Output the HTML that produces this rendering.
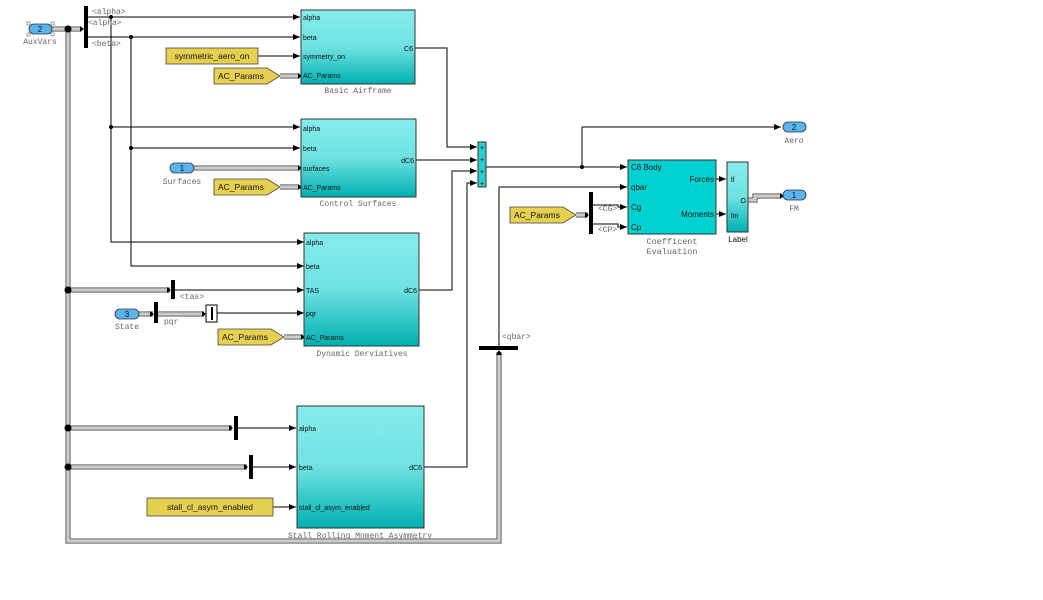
<!DOCTYPE html>
<html><head><meta charset="utf-8"><style>
html,body{margin:0;padding:0;background:#fff;}
svg{display:block}
.p{font-family:"Liberation Sans",sans-serif;font-size:8px;fill:#111}
.l{font-family:"Liberation Mono",monospace;font-size:8px;fill:#666}
.c{font-family:"Liberation Sans",sans-serif;font-size:8.5px;fill:#111}
</style></head><body>
<svg width="1043" height="600" viewBox="0 0 1043 600" xmlns="http://www.w3.org/2000/svg">
<defs>
<linearGradient id="g" x1="0" y1="0" x2="0" y2="1"><stop offset="0" stop-color="#86ecec"/><stop offset="0.5" stop-color="#6fe2e2"/><stop offset="1" stop-color="#00b0b0"/></linearGradient>
<marker id="a" markerWidth="7" markerHeight="6" refX="7" refY="3" orient="auto" markerUnits="userSpaceOnUse"><path d="M0,0 L7,3 L0,6z" fill="#000"/></marker>
</defs>
<g fill="none" stroke="#000" stroke-width="1">
<g stroke="#444" stroke-width="5"><path d="M52,29 H80 M68,29 V541 H499 V352 M68,290 H170 M68,428 H232 M68,467 H247 M139,314 H153 M158,314 H204 M280,76 H298 M194,168 H298 M280,187 H298 M284,337 H301 M576,215 H588 M748,200 H755 V196 H780"/></g>
<g stroke="#fff" stroke-width="3"><path d="M52,29 H80 M68,29 V541 H499 V352 M68,290 H170 M68,428 H232 M68,467 H247 M139,314 H153 M158,314 H204 M280,76 H298 M194,168 H298 M280,187 H298 M284,337 H301 M576,215 H588 M748,200 H755 V196 H780"/></g>
<g stroke="#999" stroke-width="1"><path d="M52,29 H80 M68,29 V541 H499 V352 M68,290 H170 M68,428 H232 M68,467 H247 M139,314 H153 M158,314 H204 M280,76 H298 M194,168 H298 M280,187 H298 M284,337 H301 M576,215 H588 M748,200 H755 V196 H780"/></g>
<g fill="#000" stroke="none">
<path d="M80,26 l4,3 -4,3z M298,73 l4,3 -4,3z M298,165 l4,3 -4,3z M298,184 l4,3 -4,3z M301,334 l4,3 -4,3z M167,287 l4,3 -4,3z M229,425 l4,3 -4,3z M244,464 l4,3 -4,3z M150,311 l4,3 -4,3z M202,311 l4,3 -4,3z M585,212 l4,3 -4,3z M780,193 l4,3 -4,3z M496,355 l3,-5 3,5z"/>
</g>
<path d="M88,17 H300" marker-end="url(#a)"/>
<path d="M88,37 H300" marker-end="url(#a)"/>
<path d="M111,17 V242 H304" marker-end="url(#a)"/>
<path d="M131,37 V266 H304" marker-end="url(#a)"/>
<path d="M111,127 H300" marker-end="url(#a)"/>
<path d="M131,148 H300" marker-end="url(#a)"/>
<path d="M258,56 H300" marker-end="url(#a)"/>
<path d="M175,290 H304" marker-end="url(#a)"/>
<path d="M217,313 H304" marker-end="url(#a)"/>
<path d="M238,428 H296" marker-end="url(#a)"/>
<path d="M253,467 H296" marker-end="url(#a)"/>
<path d="M273,507 H296" marker-end="url(#a)"/>
<path d="M415,48 H447 V147 H477" marker-end="url(#a)"/>
<path d="M416,160 H477" marker-end="url(#a)"/>
<path d="M419,290 H452 V171 H477" marker-end="url(#a)"/>
<path d="M424,467 H467 V183 H477" marker-end="url(#a)"/>
<path d="M486,167 H627" marker-end="url(#a)"/>
<path d="M582,167 V127 H781" marker-end="url(#a)"/>
<path d="M499,346 V187 H627" marker-end="url(#a)"/>
<path d="M593,205 H618 V207 H627" marker-end="url(#a)"/>
<path d="M593,224 H618 V227 H627" marker-end="url(#a)"/>
<path d="M716,179 H726" marker-end="url(#a)"/>
<path d="M716,214 H726" marker-end="url(#a)"/>
</g>
<g fill="#000">
<circle cx="68" cy="29" r="3.5"/><circle cx="68" cy="290" r="3.5"/><circle cx="68" cy="428" r="3.5"/><circle cx="68" cy="467" r="3.5"/>
<circle cx="111" cy="17" r="2"/><circle cx="131" cy="37" r="2"/><circle cx="111" cy="127" r="2"/><circle cx="131" cy="148" r="2"/><circle cx="582" cy="167" r="2"/>
</g>
<g fill="#000">
<rect x="84" y="6" width="4" height="42"/>
<rect x="171" y="280" width="4" height="19"/>
<rect x="154" y="302" width="4" height="21"/>
<rect x="234" y="416" width="4" height="24"/>
<rect x="249" y="455" width="4" height="24"/>
<rect x="589" y="192" width="4" height="42"/>
<rect x="479" y="346" width="39" height="4"/>
</g>
<rect x="206" y="305" width="11" height="17" fill="#fff" stroke="#000"/>
<line x1="212" y1="307" x2="212" y2="320" stroke="#000" stroke-width="2"/>
<g stroke="#333" stroke-width="0.8" fill="#5ab4f0">
<rect x="29" y="24" width="23" height="10" rx="5"/>
<rect x="170" y="163" width="24" height="10" rx="5"/>
<rect x="115" y="309" width="24" height="10" rx="5"/>
<rect x="783" y="122" width="23" height="10" rx="5"/>
<rect x="783" y="190" width="23" height="10" rx="5"/>
</g>
<g fill="#fff" stroke="#666" stroke-width="0.6"><rect x="27" y="22" width="3" height="3"/><rect x="51" y="22" width="3" height="3"/><rect x="27" y="33" width="3" height="3"/><rect x="51" y="33" width="3" height="3"/></g>
<g class="p" text-anchor="middle"><text x="40" y="32">2</text><text x="182" y="171">1</text><text x="127" y="317">3</text><text x="794" y="130">2</text><text x="794" y="198">1</text></g>
<g class="l" text-anchor="middle"><text x="40" y="44">AuxVars</text><text x="182" y="184">Surfaces</text><text x="127" y="329">State</text><text x="794" y="143">Aero</text><text x="794" y="211">FM</text></g>
<g fill="#e6d04f" stroke="#444" stroke-width="0.8">
<rect x="166" y="48" width="92" height="16"/>
<rect x="147" y="498" width="126" height="18"/>
<path d="M214,68 H267 L280,76 L267,84 H214z"/>
<path d="M214,179 H267 L280,187 L267,195 H214z"/>
<path d="M218,329 H271 L284,337 L271,345 H218z"/>
<path d="M510,207 H563 L576,215 L563,223 H510z"/>
</g>
<g class="c"><text x="212" y="59" text-anchor="middle">symmetric_aero_on</text><text x="210" y="510" text-anchor="middle">stall_cl_asym_enabled</text>
<text x="218" y="79">AC_Params</text><text x="218" y="190">AC_Params</text><text x="222" y="340">AC_Params</text><text x="514" y="218">AC_Params</text></g>
<g stroke="#333" stroke-width="1" fill="url(#g)">
<rect x="301" y="10" width="114" height="74"/>
<rect x="301" y="119" width="115" height="78"/>
<rect x="304" y="233" width="115" height="113"/>
<rect x="297" y="406" width="127" height="122"/>
<rect x="727" y="162" width="21" height="70"/>
<rect x="478" y="142" width="8" height="45" fill="#2ccfcf"/>
</g>
<rect x="628" y="160" width="88" height="74" fill="#00d2d2" stroke="#333"/>
<g font-family="Liberation Sans,sans-serif" font-size="7px" fill="#000" text-anchor="middle"><text x="482" y="150">+</text><text x="482" y="162">+</text><text x="482" y="174">+</text><text x="482" y="186">+</text></g>
<g font-family="Liberation Sans,sans-serif" font-size="7px" fill="#111">
<text x="303" y="20">alpha</text><text x="303" y="40">beta</text><text x="303" y="59">symmetry_on</text><text x="303" y="78">AC_Params</text><text x="413" y="51" text-anchor="end">C6</text>
<text x="303" y="131">alpha</text><text x="303" y="151">beta</text><text x="303" y="171">surfaces</text><text x="303" y="190">AC_Params</text><text x="414" y="163" text-anchor="end">dC6</text>
<text x="306" y="245">alpha</text><text x="306" y="269">beta</text><text x="306" y="293">TAS</text><text x="306" y="316">pqr</text><text x="306" y="340">AC_Params</text><text x="417" y="293" text-anchor="end">dC6</text>
<text x="299" y="431">alpha</text><text x="299" y="470">beta</text><text x="299" y="510">stall_cl_asym_enabled</text><text x="422" y="470" text-anchor="end">dC6</text>
<text x="731" y="182">lf</text><text x="731" y="218">lm</text><text x="746" y="203" text-anchor="end">O</text>
</g>
<g font-family="Liberation Sans,sans-serif" font-size="8px" fill="#111">
<text x="631" y="170">C6 Body</text><text x="631" y="190">qbar</text><text x="631" y="210">Cg</text><text x="631" y="230">Cp</text>
<text x="714" y="182" text-anchor="end">Forces</text><text x="714" y="217" text-anchor="end">Moments</text>
<text x="738" y="242" text-anchor="middle">Label</text>
</g>
<g class="l" text-anchor="middle" font-size="7px">
<text x="358" y="93">Basic Airframe</text><text x="358" y="206">Control Surfaces</text><text x="362" y="356">Dynamic Derviatives</text><text x="360" y="538">Stall Rolling Moment Asymmetry</text>
<text x="672" y="244" font-size="8.5px">Coefficent</text><text x="672" y="254" font-size="8.5px">Evaluation</text>
</g>
<g class="l" font-size="7px">
<text x="92" y="14">&lt;alpha&gt;</text><text x="88" y="25">&lt;alpha&gt;</text><text x="92" y="46">&lt;beta&gt;</text>
<text x="180" y="299">&lt;tas&gt;</text><text x="164" y="324">pqr</text><text x="598" y="211">&lt;CG&gt;</text><text x="598" y="232">&lt;CP&gt;</text><text x="502" y="339">&lt;qbar&gt;</text>
</g>
</svg>
</body></html>
